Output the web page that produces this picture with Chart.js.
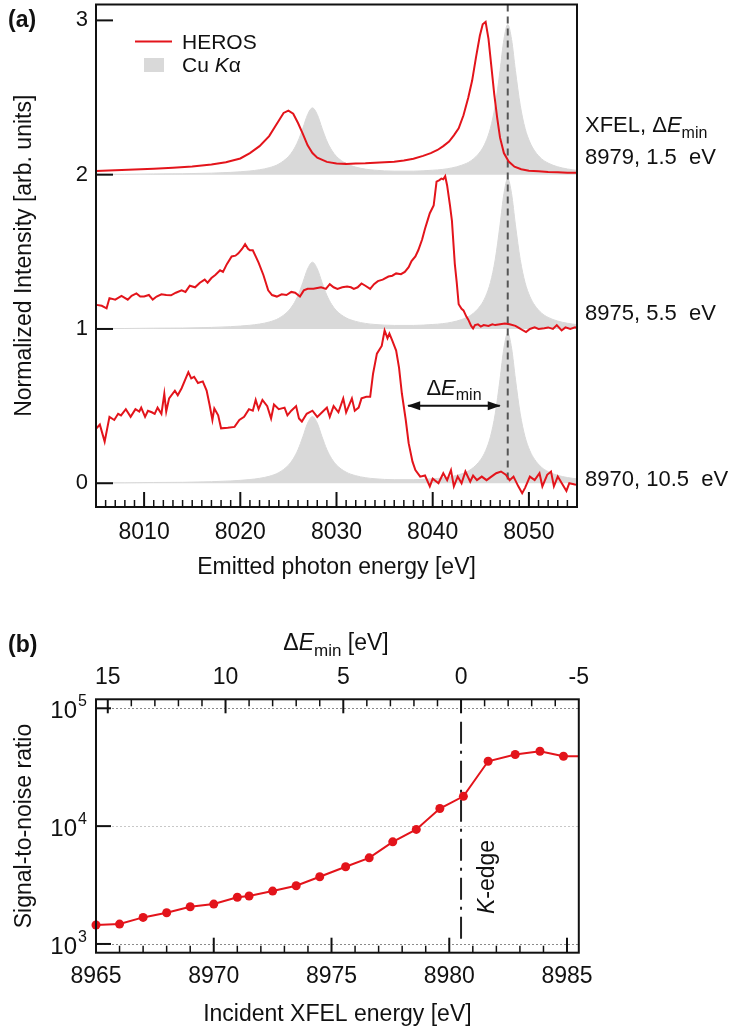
<!DOCTYPE html>
<html>
<head>
<meta charset="utf-8">
<script src="https://cdn.jsdelivr.net/npm/chart.js@4.4.1/dist/chart.umd.min.js"></script>
<style>
  html, body { margin: 0; padding: 0; background: #fff; }
  #wrapA { position: absolute; left: 0; top: 0; width: 734px; height: 595px; }
  #wrapB { position: absolute; left: 0; top: 595px; width: 734px; height: 437px; }
</style>
</head>
<body>
<div id="wrapA"><canvas id="chartA"></canvas></div>
<div id="wrapB"><canvas id="chartB"></canvas></div>
<script>
var FONT = '"Liberation Sans", Arial, Helvetica, sans-serif';
var RED = '#e3141b';
var GRAY = '#d9d9d9';
var INK = '#111';

// ---- panel (a): emitted spectra, offset by 0 / 1 / 2
var offsets = [0, 1, 2];
var xfelLabels = ['8970, 10.5  eV', '8975, 5.5  eV', '8979, 1.5  eV'];
var ticksXA = [8010, 8020, 8030, 8040, 8050];
var ticksYA = [0, 1, 2, 3];
var kaPeak = 8047.8;              // Cu Ka1 position (dashed line)
var arrowX = [8037.45, 8046.97];  // Delta E_min arrow ends
var arrowY = 0.503;

// Cu Ka reference spectrum [eV, intensity]
var cuKa = [[8005,0.003],[8008,0.003],[8011,0.005],[8014,0.006],[8017,0.010],[8019,0.015],[8021,0.024],[8022,0.032],[8023,0.045],[8024,0.069],[8025,0.117],[8025.5,0.158],[8026,0.218],[8026.5,0.301],[8027,0.390],[8027.5,0.433],[8028,0.390],[8028.5,0.301],[8029,0.218],[8029.5,0.159],[8030,0.118],[8031,0.072],[8032,0.049],[8033,0.036],[8034,0.029],[8036,0.023],[8038,0.023],[8040,0.029],[8041,0.034],[8042,0.044],[8043,0.061],[8044,0.091],[8045,0.154],[8045.5,0.211],[8046,0.301],[8046.5,0.450],[8047,0.675],[8047.4,0.876],[8047.8,0.973],[8048.2,0.876],[8048.6,0.675],[8049.1,0.450],[8049.6,0.301],[8050.1,0.211],[8050.6,0.154],[8051.3,0.104],[8052,0.075],[8053,0.051],[8054,0.037],[8055,0.028]];

// HEROS spectra [eV, intensity], one per XFEL energy
var heros8970 = [[8005.05,0.356],[8005.4,0.38],[8005.9,0.27],[8006.4,0.43],[8006.9,0.41],[8007.3,0.45],[8007.6,0.44],[8008.1,0.48],[8008.6,0.43],[8009.1,0.48],[8009.5,0.465],[8009.7,0.49],[8010.1,0.43],[8010.4,0.47],[8010.8,0.46],[8011.1,0.45],[8011.4,0.49],[8011.8,0.45],[8012.1,0.58],[8012.3,0.465],[8012.6,0.55],[8013.2,0.60],[8013.5,0.57],[8013.9,0.616],[8014.6,0.72],[8014.9,0.68],[8015.2,0.69],[8015.6,0.65],[8016.1,0.66],[8016.5,0.60],[8016.8,0.51],[8017.1,0.41],[8017.3,0.485],[8017.7,0.44],[8018,0.356],[8018.7,0.36],[8019.4,0.365],[8019.9,0.41],[8020.4,0.43],[8020.9,0.48],[8021.3,0.47],[8021.6,0.54],[8021.9,0.48],[8022.3,0.54],[8022.8,0.50],[8023.2,0.42],[8023.5,0.51],[8024,0.48],[8024.6,0.49],[8024.9,0.44],[8025.3,0.47],[8025.8,0.50],[8026.1,0.42],[8026.4,0.40],[8026.9,0.45],[8027.5,0.47],[8028,0.43],[8028.5,0.46],[8029,0.49],[8029.3,0.43],[8029.7,0.50],[8030.2,0.46],[8030.7,0.55],[8031,0.46],[8031.6,0.55],[8031.9,0.47],[8032.3,0.49],[8032.6,0.55],[8033.1,0.56],[8033.5,0.56],[8033.8,0.71],[8034.2,0.84],[8034.7,0.89],[8035,0.99],[8035.3,0.94],[8035.5,0.97],[8035.8,0.925],[8036.2,0.86],[8036.5,0.75],[8036.8,0.58],[8037.2,0.41],[8037.5,0.26],[8037.9,0.14],[8038.2,0.085],[8038.7,0.043],[8039.2,0.05],[8039.7,-0.02],[8040,0.03],[8040.6,0.0],[8041.1,0.065],[8041.5,0.02],[8041.9,0.085],[8042.2,-0.02],[8042.6,0.043],[8043,0.0],[8043.4,0.076],[8043.9,0.01],[8044.2,0.05],[8044.6,0.02],[8045.1,0.043],[8045.6,0.02],[8046.1,0.043],[8046.6,0.065],[8047.1,0.076],[8047.6,0.055],[8048,0.02],[8048.4,0.043],[8048.9,-0.02],[8049.3,-0.065],[8049.6,-0.03],[8050.1,0.043],[8050.6,0.02],[8051.1,0.065],[8051.4,-0.02],[8051.9,0.055],[8052.3,0.076],[8052.6,-0.02],[8053,0.043],[8053.9,-0.05],[8054.2,0.0],[8054.9,-0.01]];

var heros8975 = [[8005.05,0.156],[8005.6,0.15],[8006.1,0.134],[8006.4,0.20],[8007,0.19],[8007.65,0.214],[8008.3,0.19],[8008.7,0.215],[8009.2,0.23],[8009.6,0.21],[8010,0.21],[8010.5,0.22],[8010.9,0.19],[8011.3,0.21],[8011.8,0.225],[8012.3,0.22],[8012.8,0.218],[8013.3,0.235],[8013.9,0.25],[8014.3,0.24],[8014.75,0.28],[8015.3,0.27],[8015.8,0.30],[8016.3,0.32],[8016.6,0.30],[8017,0.33],[8017.4,0.35],[8017.9,0.38],[8018.2,0.37],[8018.6,0.42],[8019.1,0.47],[8019.5,0.475],[8019.8,0.49],[8020.2,0.52],[8020.5,0.55],[8020.8,0.52],[8021,0.51],[8021.3,0.51],[8021.6,0.47],[8021.9,0.43],[8022.4,0.35],[8022.9,0.25],[8023.3,0.22],[8023.8,0.21],[8024.3,0.225],[8024.8,0.22],[8025.3,0.24],[8025.7,0.235],[8026.2,0.21],[8026.6,0.25],[8027,0.26],[8027.6,0.26],[8028,0.265],[8028.4,0.27],[8028.9,0.26],[8029.3,0.29],[8029.7,0.27],[8030.1,0.26],[8030.6,0.27],[8031.1,0.275],[8031.5,0.27],[8031.8,0.26],[8032.2,0.27],[8032.6,0.295],[8033,0.28],[8033.5,0.26],[8033.9,0.29],[8034.3,0.31],[8034.8,0.32],[8035.4,0.34],[8035.8,0.345],[8036.2,0.36],[8036.7,0.355],[8037.1,0.37],[8037.5,0.40],[8037.8,0.44],[8038.2,0.47],[8038.5,0.51],[8038.9,0.58],[8039.2,0.65],[8039.5,0.71],[8039.7,0.75],[8040.1,0.80],[8040.4,0.955],[8040.7,0.965],[8040.9,0.975],[8041.1,0.97],[8041.3,0.99],[8041.5,0.93],[8041.8,0.80],[8042,0.70],[8042.3,0.42],[8042.5,0.30],[8042.7,0.16],[8043,0.13],[8043.2,0.12],[8043.5,0.08],[8043.7,0.06],[8044,0.02],[8044.2,0.003],[8044.4,0.025],[8044.7,0.03],[8045,0.015],[8045.3,0.025],[8045.8,0.02],[8046.2,0.03],[8046.5,0.025],[8047,0.03],[8047.5,0.035],[8048,0.03],[8048.6,0.02],[8049,0.005],[8049.4,-0.01],[8049.7,-0.02],[8050.1,0.0],[8050.6,0.01],[8051,0.0],[8051.6,0.005],[8052,0.01],[8052.5,0.0],[8052.9,0.025],[8053.4,-0.01],[8053.8,0.01],[8054.3,0.0],[8054.8,0.01],[8055,0.005]];

var heros8979 = [[8005,0.024],[8007,0.029],[8009,0.033],[8011,0.039],[8013,0.045],[8015,0.053],[8017,0.066],[8018.5,0.080],[8020,0.105],[8021,0.14],[8022,0.185],[8023,0.25],[8023.8,0.33],[8024.5,0.40],[8025,0.415],[8025.5,0.395],[8026,0.335],[8026.5,0.265],[8027,0.19],[8027.5,0.14],[8028,0.11],[8029,0.083],[8030,0.072],[8031,0.070],[8032,0.073],[8033,0.074],[8034,0.077],[8035,0.080],[8036,0.084],[8037,0.092],[8038,0.103],[8039,0.122],[8039.8,0.14],[8040.5,0.16],[8041.1,0.185],[8041.7,0.215],[8042.2,0.255],[8042.7,0.30],[8043.2,0.385],[8043.7,0.50],[8044.1,0.61],[8044.5,0.76],[8044.9,0.90],[8045.2,0.975],[8045.5,0.99],[8045.8,0.88],[8046.1,0.70],[8046.4,0.52],[8046.7,0.37],[8047,0.24],[8047.4,0.14],[8047.9,0.085],[8048.5,0.052],[8049.2,0.035],[8050,0.025],[8051,0.022],[8052,0.018],[8053,0.016],[8054,0.013],[8055,0.012]];

// ---- panel (b): signal-to-noise vs incident energy
var kEdge = 8980.5;
var snrX = [8965.0, 8966.0, 8967.0, 8968.0, 8969.0, 8970.0, 8971.0, 8971.5, 8972.5, 8973.5, 8974.5, 8975.6, 8976.6, 8977.6, 8978.6, 8979.6, 8980.6, 8981.65, 8982.8, 8983.85, 8984.85, 8986.0];
var snrY = [1450, 1475, 1680, 1840, 2070, 2180, 2490, 2550, 2810, 3120, 3720, 4520, 5380, 7360, 9380, 14100, 17900, 35500, 40500, 43200, 39200, 39000];
var ticksXB = [8965, 8970, 8975, 8980, 8985];
var ticksDeltaE = [-5, 0, 5, 10, 15];
var yTicksB = [1e3, 1e4, 1e5];

function toPoints(pairs, off) {
  return pairs.map(function (p) { return { x: p[0], y: p[1] + off }; });
}
function fixedTicks(list) {
  return function (s) { s.ticks = list.map(function (v) { return { value: v }; }); };
}

// draw a run of text pieces (for italics / sub- and superscripts)
function drawParts(ctx, parts, x, y, align) {
  var w = 0;
  parts.forEach(function (p) { ctx.font = p.f; w += ctx.measureText(p.t).width; });
  if (align === 'center') x -= w / 2;
  else if (align === 'right') x -= w;
  ctx.textAlign = 'left';
  ctx.textBaseline = 'alphabetic';
  parts.forEach(function (p) {
    ctx.font = p.f;
    ctx.fillText(p.t, x, y + (p.dy || 0));
    x += ctx.measureText(p.t).width;
  });
}

function line(ctx, x1, y1, x2, y2) {
  ctx.beginPath(); ctx.moveTo(x1, y1); ctx.lineTo(x2, y2); ctx.stroke();
}

var f = function (size, style) { return (style ? style + ' ' : '') + size + 'px ' + FONT; };

// keep the plot frames exactly where the layout padding puts them
function fitX(h) { return function (s) { s.height = h; s.paddingLeft = 0; s.paddingRight = 0; }; }
function fitY(w) { return function (s) { s.width = w; s.paddingTop = 0; s.paddingBottom = 0; }; }

Chart.defaults.font.family = FONT;
Chart.defaults.color = INK;

// ---------- chart (a)
var herosSets = [heros8970, heros8975, heros8979];
var dsA = [];
herosSets.forEach(function (h, i) {
  dsA.push({ data: toPoints(h, offsets[i]), borderColor: RED, borderWidth: 2, pointRadius: 0, fill: false, order: 0 });
});
dsA.push({ data: [{ x: kaPeak, y: 3.103 }, { x: kaPeak, y: 0.02 }], borderColor: '#555', borderWidth: 2, borderDash: [7, 5], pointRadius: 0, fill: false, order: 1 });
dsA.push({ data: [{ x: arrowX[0], y: arrowY }, { x: arrowX[1], y: arrowY }], borderColor: INK, borderWidth: 2, pointRadius: 0, fill: false, order: 1 });
offsets.forEach(function (off) {
  dsA.push({ data: toPoints(cuKa, off), borderColor: GRAY, borderWidth: 1, backgroundColor: GRAY, fill: { value: off }, pointRadius: 0, cubicInterpolationMode: 'monotone', order: 2 });
});

var decorA = {
  id: 'decorA',
  afterDraw: function (chart) {
    var ctx = chart.ctx, ca = chart.chartArea, sx = chart.scales.x, sy = chart.scales.y;
    ctx.save();
    ctx.strokeStyle = INK; ctx.fillStyle = INK;
    ctx.lineWidth = 2;
    ctx.strokeRect(ca.left, ca.top, ca.right - ca.left, ca.bottom - ca.top);
    ticksYA.forEach(function (v) {
      var py = sy.getPixelForValue(v);
      line(ctx, ca.left, py, ca.left + 17, py);
    });
    for (var e = 8006; e <= 8054; e++) {
      var px = sx.getPixelForValue(e);
      var major = e % 10 === 0;
      ctx.lineWidth = major ? 2 : 1.5;
      line(ctx, px, ca.bottom, px, ca.bottom - (major ? 15 : 7));
    }
    // arrow heads
    var ax1 = sx.getPixelForValue(arrowX[0]), ax2 = sx.getPixelForValue(arrowX[1]), ay = sy.getPixelForValue(arrowY);
    ctx.beginPath(); ctx.moveTo(ax1 - 1, ay); ctx.lineTo(ax1 + 12, ay - 4.5); ctx.lineTo(ax1 + 12, ay + 4.5); ctx.closePath(); ctx.fill();
    ctx.beginPath(); ctx.moveTo(ax2 + 1, ay); ctx.lineTo(ax2 - 12, ay - 4.5); ctx.lineTo(ax2 - 12, ay + 4.5); ctx.closePath(); ctx.fill();
    drawParts(ctx, [{ t: '\u0394', f: f(22) }, { t: 'E', f: f(22, 'italic') }, { t: 'min', f: f(16), dy: 5 }], (ax1 + ax2) / 2, ay - 11, 'center');
    // legend
    ctx.strokeStyle = RED; ctx.lineWidth = 2;
    line(ctx, 135, 41.5, 172, 41.5);
    ctx.fillStyle = GRAY;
    ctx.fillRect(144, 58, 20, 14);
    ctx.fillStyle = INK;
    drawParts(ctx, [{ t: 'HEROS', f: f(21) }], 182, 49);
    drawParts(ctx, [{ t: 'Cu ', f: f(21) }, { t: 'K', f: f(21, 'italic') }, { t: '\u03b1', f: f(21) }], 182, 72);
    // right-hand labels
    drawParts(ctx, [{ t: 'XFEL, \u0394', f: f(22) }, { t: 'E', f: f(22, 'italic') }, { t: 'min', f: f(16), dy: 6 }], 585, 132);
    var labelBase = [486, 320, 164];
    xfelLabels.forEach(function (t, i) { drawParts(ctx, [{ t: t, f: f(22) }], 585, labelBase[i]); });
    drawParts(ctx, [{ t: '(a)', f: f(23, 'bold') }], 8, 27);
    ctx.restore();
  }
};

new Chart(document.getElementById('chartA'), {
  type: 'line',
  data: { datasets: dsA },
  options: {
    responsive: true, maintainAspectRatio: false, animation: false, devicePixelRatio: 1, events: [],
    layout: { padding: { left: 0, right: 157, top: 4.5, bottom: 0 } },
    plugins: { legend: { display: false }, tooltip: { enabled: false } },
    scales: {
      x: {
        type: 'linear', min: 8005, max: 8055,
        afterFit: fitX(88),
        afterBuildTicks: fixedTicks(ticksXA),
        grid: { display: false, drawTicks: false }, border: { display: false },
        ticks: { padding: 12, autoSkip: false, maxRotation: 0, font: { size: 23 },
          callback: function (v) { return String(v); } },
        title: { display: true, text: 'Emitted photon energy [eV]', font: { size: 23 }, padding: { top: 0, bottom: 14 } }
      },
      y: {
        type: 'linear', min: -0.154, max: 3.103,
        afterFit: fitY(96),
        afterBuildTicks: fixedTicks(ticksYA),
        grid: { display: false, drawTicks: false }, border: { display: false },
        ticks: { padding: 8, autoSkip: false, font: { size: 22 },
          callback: function (v) { return String(v); } },
        title: { display: true, text: 'Normalized Intensity [arb. units]', font: { size: 23 }, padding: { top: 11, bottom: 0 } }
      }
    }
  },
  plugins: [decorA]
});

// ---------- chart (b)
var snrPoints = snrX.map(function (x, i) { return { x: x, y: snrY[i] }; });

var decorB = {
  id: 'decorB',
  beforeDatasetsDraw: function (chart) {
    var ctx = chart.ctx, ca = chart.chartArea, sy = chart.scales.y;
    ctx.save();
    ctx.lineWidth = 1;
    ctx.setLineDash([2, 2]);
    yTicksB.forEach(function (v) {
      ctx.strokeStyle = v === 1e4 ? '#c8c8c8' : '#8a8a8a';
      var py = Math.round(sy.getPixelForValue(v)) + 0.5;
      line(ctx, ca.left, py, ca.right, py);
    });
    ctx.restore();
  },
  afterDraw: function (chart) {
    var ctx = chart.ctx, ca = chart.chartArea, sx = chart.scales.x, sx2 = chart.scales.x2, sy = chart.scales.y;
    ctx.save();
    ctx.strokeStyle = INK; ctx.fillStyle = INK;
    ctx.lineWidth = 2;
    ctx.strokeRect(ca.left, ca.top, ca.right - ca.left, ca.bottom - ca.top);
    yTicksB.forEach(function (v) {
      var py = sy.getPixelForValue(v);
      ctx.lineWidth = 2;
      line(ctx, ca.left, py, ca.left + 15, py);
      var exp = String(Math.round(Math.log10(v)));
      ctx.textAlign = 'right'; ctx.textBaseline = 'alphabetic';
      ctx.font = f(24);
      ctx.fillText('10', 77, py + 10);
      ctx.textAlign = 'left';
      ctx.font = f(16);
      ctx.fillText(exp, 78, py - 2);
    });
    var e, px, major;
    for (e = 8966; e <= 8985; e++) {
      px = sx.getPixelForValue(e);
      major = e % 5 === 0;
      ctx.lineWidth = major ? 2 : 1.5;
      line(ctx, px, ca.bottom, px, ca.bottom - (major ? 15 : 7));
    }
    for (e = -4; e <= 15; e++) {
      px = sx2.getPixelForValue(e);
      major = e % 5 === 0;
      ctx.lineWidth = major ? 2 : 1.5;
      line(ctx, px, ca.top, px, ca.top + (major ? 14 : 7));
    }
    drawParts(ctx, [{ t: '\u0394', f: f(23) }, { t: 'E', f: f(23, 'italic') }, { t: 'min', f: f(17), dy: 6 }, { t: ' [eV]', f: f(23) }], 336, 55, 'center');
    drawParts(ctx, [{ t: '(b)', f: f(23, 'bold') }], 8, 57);
    ctx.save();
    ctx.translate(sx.getPixelForValue(kEdge) + 33, 282);
    ctx.rotate(-Math.PI / 2);
    drawParts(ctx, [{ t: 'K', f: f(23, 'italic') }, { t: '-edge', f: f(23) }], 0, 0, 'center');
    ctx.restore();
    ctx.restore();
  }
};

new Chart(document.getElementById('chartB'), {
  type: 'line',
  data: {
    datasets: [
      { data: snrPoints, borderColor: RED, backgroundColor: RED, borderWidth: 2, pointRadius: 4.5, pointBorderWidth: 0,
        fill: false, clip: { left: 8, top: 0, right: 0, bottom: 0 }, order: 0 },
      { data: [{ x: kEdge, y: 76900 }, { x: kEdge, y: 980 }], borderColor: '#222', borderWidth: 2,
        borderDash: [22, 7, 3, 7], pointRadius: 0, fill: false, order: 1 }
    ]
  },
  options: {
    responsive: true, maintainAspectRatio: false, animation: false, devicePixelRatio: 1, events: [],
    layout: { padding: { left: 0, right: 155.2, top: 0, bottom: 0 } },
    plugins: { legend: { display: false }, tooltip: { enabled: false } },
    scales: {
      x: {
        type: 'linear', position: 'bottom', min: 8965, max: 8985.5,
        afterFit: fitX(79.3),
        afterBuildTicks: fixedTicks(ticksXB),
        grid: { display: false, drawTicks: false }, border: { display: false },
        ticks: { padding: 10, autoSkip: false, maxRotation: 0, font: { size: 23 },
          callback: function (v) { return String(v); } },
        title: { display: true, text: 'Incident XFEL energy [eV]', font: { size: 23 }, padding: { top: 0, bottom: 3.5 } }
      },
      x2: {
        type: 'linear', position: 'top', reverse: true,
        min: kEdge - 8985.5, max: kEdge - 8965,
        afterFit: fitX(104.3),
        afterBuildTicks: fixedTicks(ticksDeltaE),
        grid: { display: false, drawTicks: false }, border: { display: false },
        ticks: { padding: 7.5, autoSkip: false, maxRotation: 0, font: { size: 23 },
          callback: function (v) { return String(v); } }
      },
      y: {
        type: 'logarithmic', min: 843, max: 119200,
        afterFit: fitY(96),
        afterBuildTicks: fixedTicks(yTicksB),
        grid: { display: false, drawTicks: false }, border: { display: false },
        ticks: { display: false },
        title: { display: true, text: 'Signal-to-noise ratio', font: { size: 23 }, padding: { top: 11, bottom: 0 } }
      }
    }
  },
  plugins: [decorB]
});
</script>
</body>
</html>
